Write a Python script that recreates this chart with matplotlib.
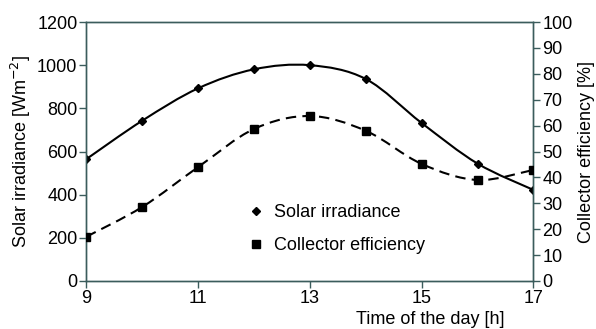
import numpy as np
import matplotlib
matplotlib.use("Agg")
import matplotlib.pyplot as plt
from matplotlib.path import Path
from matplotlib.patches import PathPatch

plt.rcParams['font.family'] = ['Liberation Sans', 'DejaVu Sans']

# --- data ---
hours = [9, 10, 11, 12, 13, 14, 15, 16, 17]
irradiance = [565, 743, 893, 981, 1000, 936, 732, 544, 422]       # W/m2
efficiency = [17.1, 28.6, 44.0, 58.7, 63.7, 58.0, 45.2, 39.0, 42.9]  # %

x_ticks = [9, 11, 13, 15, 17]
AXCOL = '#3b5c5c'
FS = 13


def smooth_path(xs, ys, ax, **kw):
    """Catmull-Rom style bezier curve through the points (drawing only)."""
    xs = np.asarray(xs, float)
    ys = np.asarray(ys, float)
    verts = [(xs[0], ys[0])]
    codes = [Path.MOVETO]
    n = len(xs)
    for i in range(n - 1):
        x0, y0 = (xs[i - 1], ys[i - 1]) if i > 0 else (xs[i], ys[i])
        x3, y3 = (xs[i + 2], ys[i + 2]) if i + 2 < n else (xs[i + 1], ys[i + 1])
        c1 = (xs[i] + (xs[i + 1] - x0) / 6, ys[i] + (ys[i + 1] - y0) / 6)
        c2 = (xs[i + 1] - (x3 - xs[i]) / 6, ys[i + 1] - (y3 - ys[i]) / 6)
        verts += [c1, c2, (xs[i + 1], ys[i + 1])]
        codes += [Path.CURVE4] * 3
    patch = PathPatch(Path(verts, codes), fill=False, **kw)
    ax.add_patch(patch)


fig, ax = plt.subplots(figsize=(5.96, 3.29), dpi=100)
fig.subplots_adjust(left=0.145, right=0.895, top=0.933, bottom=0.146)
ax2 = ax.twinx()

smooth_path(hours, irradiance, ax, color='black', lw=1.5, zorder=3)
ax.plot(hours, irradiance, linestyle='none', marker='D', ms=3.8,
        color='black', label='Solar irradiance', zorder=4)

smooth_path(hours, efficiency, ax2, color='black', lw=1.5,
            linestyle=(0, (5, 3)), zorder=3)
ax2.plot(hours, efficiency, linestyle='none', marker='s', ms=5.5,
         color='black', label='Collector efficiency', zorder=4)

ax.set_xlim(9, 17)
ax.set_ylim(0, 1200)
ax2.set_ylim(0, 100)
ax.set_xticks(x_ticks)
ax.set_yticks(np.arange(0, 1201, 200))
ax2.set_yticks(np.arange(0, 101, 10))

for a in (ax, ax2):
    for s in a.spines.values():
        s.set_color(AXCOL)
        s.set_linewidth(1.0)
    a.tick_params(colors=AXCOL, labelcolor='black', labelsize=FS,
                  length=5, width=1.0, pad=1.5)

ax.set_ylabel('Solar irradiance [Wm$^{-2}$]', fontsize=FS, labelpad=3)
ax2.set_ylabel('Collector efficiency [%]', fontsize=FS, labelpad=4)
ax.set_xlabel('Time of the day [h]', fontsize=FS)
ax.xaxis.set_label_coords(0.77, -0.115)

h1, l1 = ax.get_legend_handles_labels()
h2, l2 = ax2.get_legend_handles_labels()
ax.legend(h1 + h2, l1 + l2, loc='lower left', bbox_to_anchor=(0.33, 0.04),
          frameon=False, fontsize=FS, handlelength=0.6, handletextpad=0.7,
          labelspacing=0.9)

fig.savefig('out.png', dpi=100)
